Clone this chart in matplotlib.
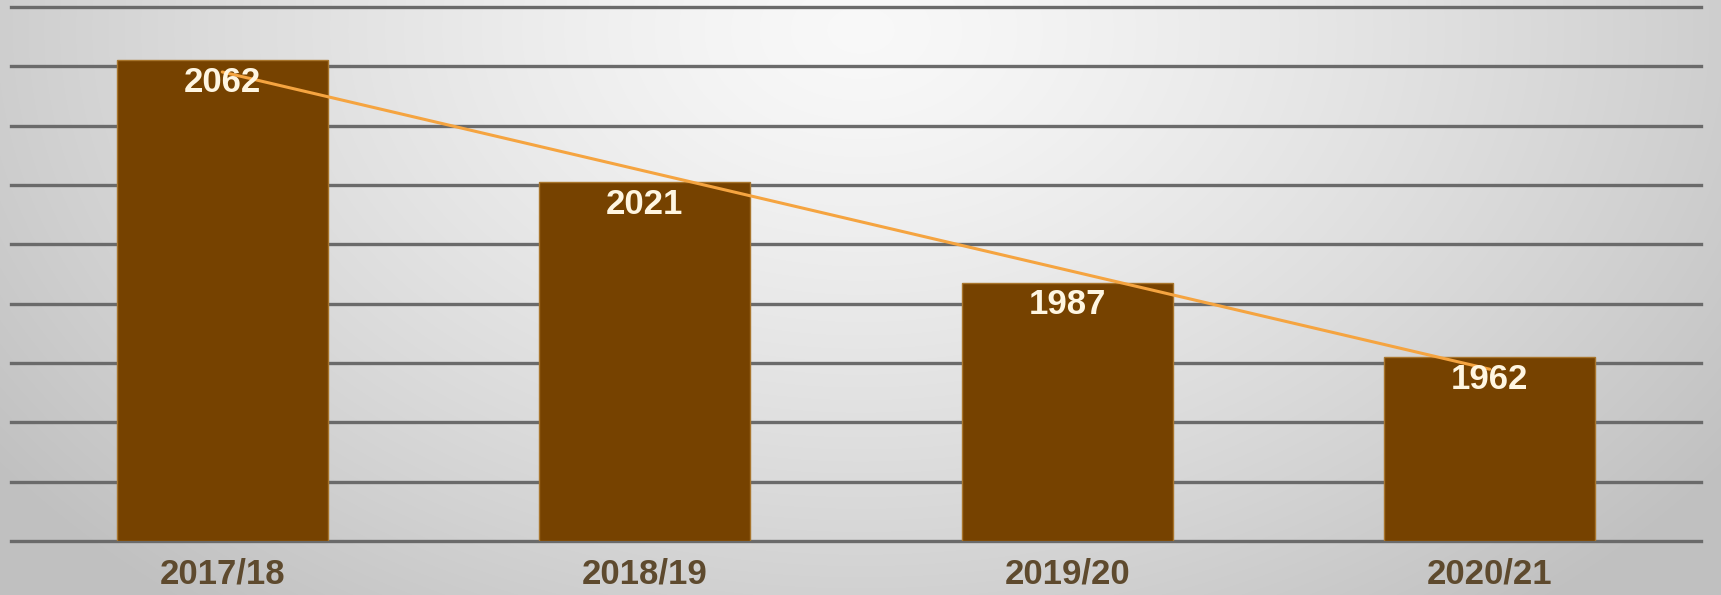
import numpy as np
import matplotlib
matplotlib.use("Agg")
import matplotlib.pyplot as plt

categories = ["2017/18", "2018/19", "2019/20", "2020/21"]
values = [2062, 2021, 1987, 1962]
y_min, y_max, y_step = 1900, 2080, 20

W, H, DPI = 1721, 595, 100
fig = plt.figure(figsize=(W / DPI, H / DPI), dpi=DPI)

# radial gradient background
bg = fig.add_axes([0, 0, 1, 1])
yy, xx = np.mgrid[0:H, 0:W]
cx, cy = W * 0.5, H * 0.05
d = np.sqrt(((xx - cx) / (W * 0.62)) ** 2 + ((yy - cy) / (H * 1.25)) ** 2)
d = np.clip(d, 0, 1)
val = 0.975 - 0.22 * d ** 1.3
img = np.dstack([val, val, val])
bg.imshow(img, aspect="auto", extent=[0, 1, 0, 1], origin="upper")
bg.set_axis_off()

ax = fig.add_axes([11 / W, 1 - 541 / H, 1690 / W, (541 - 7) / H])
ax.patch.set_alpha(0)
x = np.arange(len(categories))
ax.set_xlim(-0.5, len(categories) - 0.5)
ax.set_ylim(y_min, y_max)

for yv in np.arange(y_min, y_max + 1, y_step):
    ax.axhline(yv, color="#6a6a6a", lw=2.4, zorder=1, clip_on=False)

ax.bar(x, [v - y_min for v in values], bottom=y_min, width=0.5,
       color="#764200", edgecolor="#a8752c", linewidth=1.0, zorder=2)

coef = np.polyfit(x, values, 1)
ax.plot([x[0], x[-1]], np.polyval(coef, [x[0], x[-1]]), color="#f5a440", lw=2.2,
        zorder=3, solid_capstyle="round")

for xi, v in zip(x, values):
    ax.annotate(str(v), (xi, v), xytext=(0, -4), textcoords="offset points",
                ha="center", va="top", fontsize=25, fontweight="bold",
                family="Liberation Sans", color="#fff6e2", zorder=4)

ax.set_xticks(x)
ax.set_xticklabels(categories, fontsize=25, fontweight="bold", family="Liberation Sans",
                   color="#5e4a2e")
ax.tick_params(axis="x", length=0, pad=12)
ax.set_yticks([])
for s in ax.spines.values():
    s.set_visible(False)

fig.savefig("out.png", dpi=DPI)
